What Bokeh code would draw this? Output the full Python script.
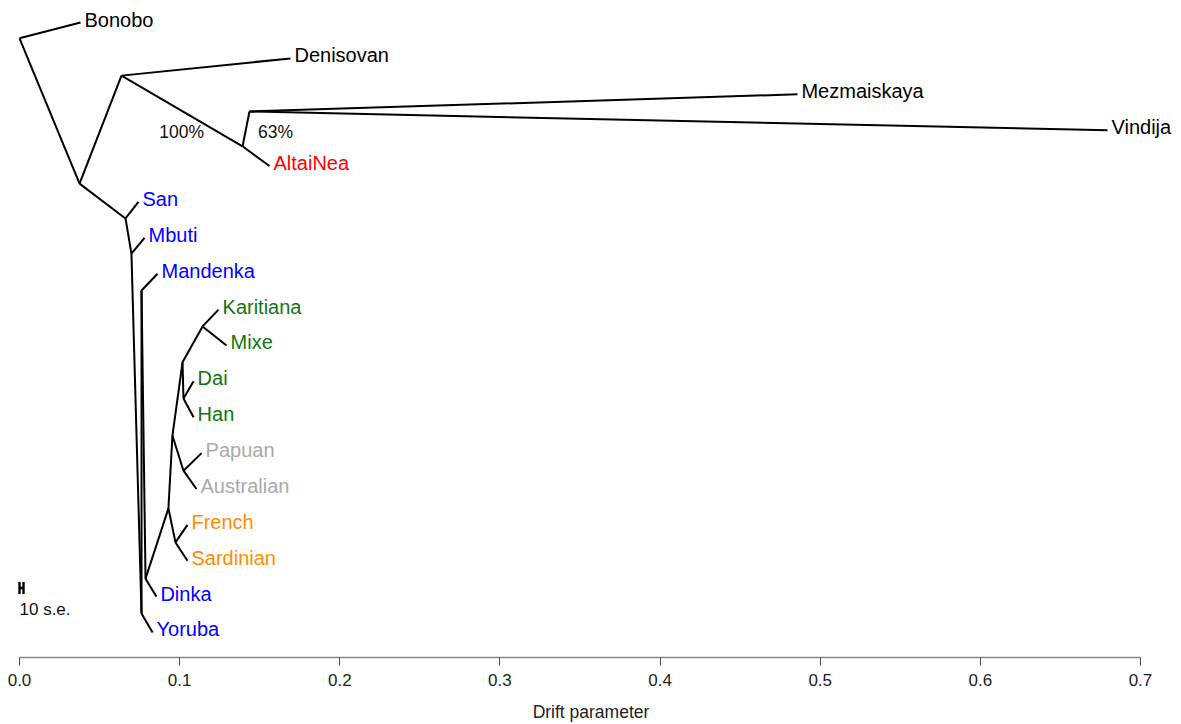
from bokeh.plotting import figure
from bokeh.models import Range1d, FixedTicker, ColumnDataSource
from bokeh.core.properties import value
from bokeh.embed import file_html
from bokeh.resources import INLINE

# ---- tree nodes (drift coordinate x, vertical rank y) ----
node_names = ["root", "A", "B", "C", "D", "E", "F", "G", "H", "I", "J",
              "K", "L", "M", "N", "O", "P",
              "Bonobo", "Denisovan", "Mezmaiskaya", "Vindija", "AltaiNea",
              "San", "Mbuti", "Mandenka", "Karitiana", "Mixe", "Dai", "Han",
              "Papuan", "Australian", "French", "Sardinian", "Dinka", "Yoruba"]
node_x = [0.0, 0.0375, 0.0637, 0.1393, 0.1436, 0.0662, 0.0699, 0.0762, 0.0762,
          0.0787, 0.0930, 0.0974, 0.0955, 0.1024, 0.1018, 0.1024, 0.1143,
          0.0381, 0.1692, 0.4858, 0.6794, 0.1561,
          0.0743, 0.0781, 0.0862, 0.1243, 0.1293, 0.1087, 0.1087,
          0.1137, 0.1105, 0.1049, 0.1049, 0.0855, 0.0831]
node_y = [17.56, 13.51, 16.52, 14.55, 15.52, 12.54, 11.56, 1.53, 10.53,
          2.50, 4.46, 3.51, 6.49, 5.51, 8.53, 7.52, 9.53,
          18.0, 17.0, 16.0, 15.0, 14.0,
          13.0, 12.0, 11.0, 10.0, 9.0, 8.0, 7.0,
          6.0, 5.0, 4.0, 3.0, 2.0, 1.0]

edge_parent = ["root", "root", "A", "A", "B", "B", "C", "C", "D", "D",
               "E", "E", "F", "F", "G", "G", "H", "H", "I", "I",
               "J", "J", "K", "K", "L", "L", "M", "M", "N", "N",
               "O", "O", "P", "P"]
edge_child = ["Bonobo", "A", "B", "E", "Denisovan", "C", "AltaiNea", "D",
              "Mezmaiskaya", "Vindija", "San", "F", "Mbuti", "G", "Yoruba", "H",
              "Mandenka", "I", "Dinka", "J", "K", "L", "French", "Sardinian",
              "M", "N", "Papuan", "Australian", "O", "P", "Dai", "Han",
              "Karitiana", "Mixe"]

leaf_names = ["Bonobo", "Denisovan", "Mezmaiskaya", "Vindija", "AltaiNea",
              "San", "Mbuti", "Mandenka", "Karitiana", "Mixe", "Dai", "Han",
              "Papuan", "Australian", "French", "Sardinian", "Dinka", "Yoruba"]
leaf_colors = ["black", "black", "black", "black", "#FF0000",
               "#0000FF", "#0000FF", "#0000FF", "#117411", "#117411", "#117411",
               "#117411", "#AAAAAA", "#AAAAAA", "#FF8C00", "#FF8C00",
               "#0000FF", "#0000FF"]

support_labels = ["100%", "63%"]
support_x = [0.1012, 0.1599]
support_y = [14.96, 14.96]

se_width = 0.0025          # width of 10 standard errors
se_label = "10 s.e."

tick_values = [0.0, 0.1, 0.2, 0.3, 0.4, 0.5, 0.6, 0.7]
tick_labels = ["0.0", "0.1", "0.2", "0.3", "0.4", "0.5", "0.6", "0.7"]
x_label = "Drift parameter"

# ---- build sources ----
pos = {n: (x, y) for n, x, y in zip(node_names, node_x, node_y)}
edges = ColumnDataSource(dict(
    x0=[pos[a][0] for a in edge_parent], y0=[pos[a][1] for a in edge_parent],
    x1=[pos[b][0] for b in edge_child], y1=[pos[b][1] for b in edge_child]))
leaves = ColumnDataSource(dict(
    x=[pos[n][0] for n in leaf_names], y=[pos[n][1] for n in leaf_names],
    name=leaf_names, color=leaf_colors))

FONT = "Liberation Sans"

p = figure(frame_width=1165, frame_height=648, output_backend="svg",
           toolbar_location=None,
           x_range=Range1d(-0.006869, 0.72062), y_range=Range1d(0.3032, 18.363),
           min_border_left=8, min_border_right=0, min_border_top=9,
           min_border_bottom=60, y_axis_location=None)
p.outline_line_color = None
p.grid.visible = False
p.background_fill_color = "white"
p.border_fill_color = "white"

p.segment(x0="x0", y0="y0", x1="x1", y1="y1", source=edges,
          line_color="black", line_width=2)

p.text(x="x", y="y", text="name", source=leaves, text_color="color",
       text_font=value(FONT), text_font_size="20px",
       text_align="left", text_baseline="middle", x_offset=4, y_offset=-3)

p.text(x=support_x, y=support_y, text=support_labels, text_color="#111111",
       text_font=value(FONT), text_font_size="17.5px",
       text_align="center", text_baseline="middle")

# scale bar (10 s.e.)
se_y = 2.24
se_h = 0.17
p.segment(x0=[0.0, 0.0, se_width], y0=[se_y, se_y - se_h, se_y - se_h],
          x1=[se_width, 0.0, se_width], y1=[se_y, se_y + se_h, se_y + se_h],
          line_color="black", line_width=2.4)
p.text(x=[0.0], y=[1.64], text=[se_label], text_color="#111111",
       text_font=value(FONT), text_font_size="17px",
       text_align="left", text_baseline="middle")

ax = p.xaxis[0]
ax.ticker = FixedTicker(ticks=tick_values)
ax.major_label_overrides = {v: l for v, l in zip(tick_values, tick_labels)}
ax.bounds = (tick_values[0], tick_values[-1])
ax.minor_tick_line_color = None
ax.axis_line_color = "#8a8a8a"
ax.axis_line_width = 1.5
ax.major_tick_line_color = "#444444"
ax.major_tick_out = 8
ax.major_tick_in = 0
ax.major_label_standoff = 8
ax.major_label_text_font = FONT
ax.major_label_text_font_size = "17px"
ax.major_label_text_color = "#222222"
ax.axis_label = x_label
ax.axis_label_text_font = FONT
ax.axis_label_text_font_size = "17.5px"
ax.axis_label_text_font_style = "normal"
ax.axis_label_text_color = "#222222"
ax.axis_label_standoff = 13

open("out.html", "w").write(file_html(p, INLINE))
